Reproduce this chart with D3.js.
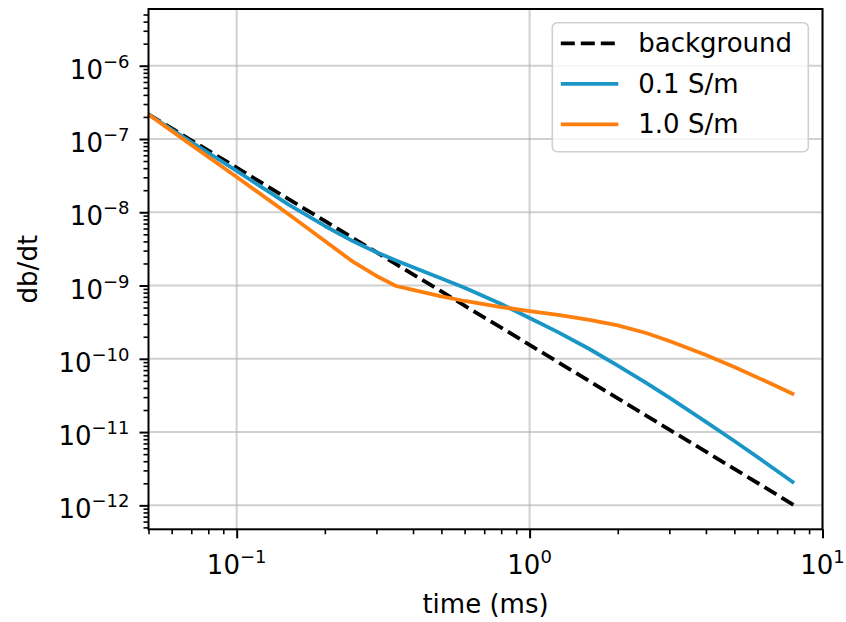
<!DOCTYPE html>
<html lang="en">
<head>
<meta charset="utf-8">
<title>db/dt vs time</title>
<script src="https://d3js.org/d3.v7.min.js"></script>
<style>
  body { margin: 0; background: #fff; }
  svg text { font-family: "DejaVu Sans", sans-serif; fill: #000; }
</style>
</head>
<body>
<script type="text/javascript">

// sample times (ms), shared by all three curves
var times = [0.05, 0.07, 0.1, 0.15, 0.2, 0.25, 0.3, 0.35, 0.4, 0.5, 0.6, 0.8,
             1, 1.25, 1.6, 2, 2.5, 3, 4, 5, 6.3, 8];

// db/dt values
var background = [2.17e-7, 9.6e-8, 4.06e-8, 1.52e-8, 7.6e-9, 4.42e-9, 2.85e-9, 1.96e-9, 1.42e-9, 8.3e-10, 5.3e-10, 2.66e-10,
                  1.55e-10, 9.0e-11, 4.95e-11, 2.89e-11, 1.68e-11, 1.08e-11, 5.4e-12, 3.14e-12, 1.8e-12, 1.0e-12];
var cond01 = [2.16e-7, 9.1e-8, 3.66e-8, 1.28e-8, 6.5e-9, 4.01e-9, 2.85e-9, 2.2e-9, 1.78e-9, 1.25e-9, 9.3e-10, 5.61e-10,
              3.6e-10, 2.31e-10, 1.36e-10, 8.09e-11, 4.7e-11, 2.95e-11, 1.38e-11, 7.55e-12, 3.97e-12, 2.02e-12];
var cond10 = [2.16e-7, 8.3e-8, 3.03e-8, 9.46e-9, 4.05e-9, 2.1e-9, 1.35e-9, 9.86e-10, 8.7e-10, 7.1e-10, 6.15e-10, 5.09e-10,
              4.49e-10, 3.98e-10, 3.4e-10, 2.86e-10, 2.25e-10, 1.75e-10, 1.13e-10, 7.73e-11, 5.08e-11, 3.26e-11];

var seriesNames = ["background", "0.1 S/m", "1.0 S/m"];
var seriesColors = ["#000000", "#1a96c6", "#ff7f0e"];
var seriesDash = ["14,6", null, null];

var xTicks = [0.1, 1, 10];
var xTickExp = ["\u22121", "0", "1"];
var yTicks = [1e-12, 1e-11, 1e-10, 1e-9, 1e-8, 1e-7, 1e-6];
var yTickExp = ["\u221212", "\u221211", "\u221210", "\u22129", "\u22128", "\u22127", "\u22126"];

//Width and height
var w = 846;
var h = 622;
// plot box (window.top is reserved, so prefixed names)
var pLeft = 148.5, pRight = 822.5, pTop = 9, pBottom = 529.3;

var svg = d3.select("body")
            .append("svg")
            .attr("width", w)
            .attr("height", h);

var x = d3.scaleLog().domain([0.05, 10]).range([pLeft, pRight]);
var y = d3.scaleLog().domain([Math.pow(10, -12.327), Math.pow(10, -5.226)]).range([pBottom, pTop]);

// minor tick positions (2..9 in each decade, inside the domain)
function minorTicks(scale) {
	var d = scale.domain(), out = [];
	var lo = Math.floor(Math.log10(d[0])), hi = Math.ceil(Math.log10(d[1]));
	for (var e = lo; e <= hi; e++) {
		for (var m = 2; m <= 9; m++) {
			var v = m * Math.pow(10, e);
			if (v >= d[0] * 0.999 && v <= d[1] * 1.001) out.push(v);
		}
	}
	return out;
}

// grid
svg.append("g").selectAll("line")
   .data(xTicks)
   .enter()
   .append("line")
   .attr("x1", function(d) { return x(d); })
   .attr("x2", function(d) { return x(d); })
   .attr("y1", pTop)
   .attr("y2", pBottom)
   .attr("stroke", "#b0b0b0")
   .attr("stroke-opacity", 0.6)
   .attr("stroke-width", 2);

svg.append("g").selectAll("line")
   .data(yTicks)
   .enter()
   .append("line")
   .attr("x1", pLeft)
   .attr("x2", pRight)
   .attr("y1", function(d) { return y(d); })
   .attr("y2", function(d) { return y(d); })
   .attr("stroke", "#b0b0b0")
   .attr("stroke-opacity", 0.6)
   .attr("stroke-width", 2);

// curves
var line = d3.line()
             .x(function(d) { return x(d.t); })
             .y(function(d) { return y(d.v); });

[background, cond01, cond10].forEach(function(vals, i) {
	var pts = times.map(function(t, j) { return {t: t, v: vals[j]}; });
	svg.append("path")
	   .datum(pts)
	   .attr("d", line)
	   .attr("fill", "none")
	   .attr("stroke", seriesColors[i])
	   .attr("stroke-width", 3.8)
	   .attr("stroke-linejoin", "round")
	   .attr("stroke-dasharray", seriesDash[i]);
});

// ticks
function drawAxis(axis, transform) {
	var g = svg.append("g").attr("transform", transform).call(axis);
	g.select(".domain").remove();
	g.selectAll(".tick line").attr("stroke", "#000");
	return g;
}
drawAxis(d3.axisBottom(x).tickValues(xTicks).tickSize(9).tickFormat(""), "translate(0," + pBottom + ")")
	.selectAll(".tick line").attr("stroke-width", 2);
drawAxis(d3.axisBottom(x).tickValues(minorTicks(x)).tickSize(5).tickFormat(""), "translate(0," + pBottom + ")")
	.selectAll(".tick line").attr("stroke-width", 1.6);
drawAxis(d3.axisLeft(y).tickValues(yTicks).tickSize(9).tickFormat(""), "translate(" + pLeft + ",0)")
	.selectAll(".tick line").attr("stroke-width", 2);
drawAxis(d3.axisLeft(y).tickValues(minorTicks(y)).tickSize(5).tickFormat(""), "translate(" + pLeft + ",0)")
	.selectAll(".tick line").attr("stroke-width", 1.6);

// tick labels as 10^n
var xl = svg.append("g").selectAll("text")
   .data(xTicks)
   .enter()
   .append("text")
   .attr("x", function(d) { return x(d); })
   .attr("y", pBottom + 45)
   .attr("text-anchor", "middle")
   .attr("font-size", "26px");
xl.append("tspan").text("10");
xl.append("tspan").attr("font-size", "18px").attr("dy", -11).text(function(d, i) { return xTickExp[i]; });

var yl = svg.append("g").selectAll("text")
   .data(yTicks)
   .enter()
   .append("text")
   .attr("x", pLeft - 19)
   .attr("y", function(d) { return y(d) + 13; })
   .attr("text-anchor", "end")
   .attr("font-size", "26px");
yl.append("tspan").text("10");
yl.append("tspan").attr("font-size", "18px").attr("dy", -11).text(function(d, i) { return yTickExp[i]; });

// frame
svg.append("rect")
   .attr("x", pLeft)
   .attr("y", pTop)
   .attr("width", pRight - pLeft)
   .attr("height", pBottom - pTop)
   .attr("fill", "none")
   .attr("stroke", "#000")
   .attr("stroke-width", 2);

// axis titles
svg.append("text")
   .attr("x", (pLeft + pRight) / 2)
   .attr("y", 613)
   .attr("text-anchor", "middle")
   .attr("font-size", "26px")
   .text("time (ms)");

svg.append("text")
   .attr("transform", "translate(37," + ((pTop + pBottom) / 2) + ") rotate(-90)")
   .attr("text-anchor", "middle")
   .attr("font-size", "26px")
   .text("db/dt");

// legend
var lg = svg.append("g").attr("transform", "translate(552.3,22.7)");
lg.append("rect")
  .attr("width", 256)
  .attr("height", 129)
  .attr("rx", 5)
  .attr("fill", "#fff")
  .attr("fill-opacity", 0.8)
  .attr("stroke", "#d0d0d0")
  .attr("stroke-width", 1.6);

var rows = lg.selectAll("g.row")
  .data(seriesNames)
  .enter()
  .append("g")
  .attr("transform", function(d, i) { return "translate(0," + (20.6 + i * 40.5) + ")"; });
rows.append("line")
  .attr("x1", 8.5)
  .attr("x2", 66)
  .attr("stroke", function(d, i) { return seriesColors[i]; })
  .attr("stroke-width", 3.8)
  .attr("stroke-dasharray", function(d, i) { return seriesDash[i]; });
rows.append("text")
  .attr("x", 86)
  .attr("y", 9)
  .attr("font-size", "26px")
  .text(function(d) { return d; });

</script>
</body>
</html>
